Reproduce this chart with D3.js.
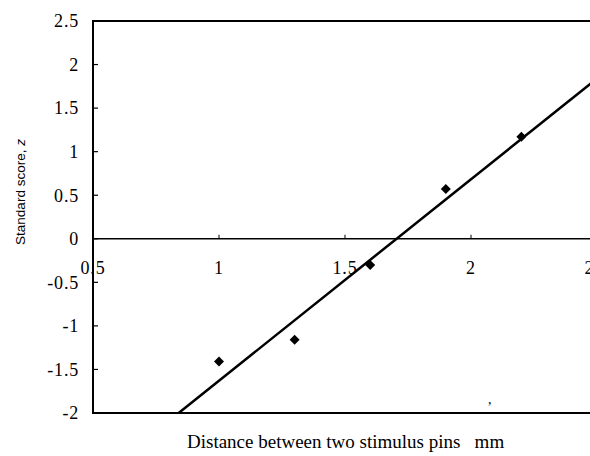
<!DOCTYPE html>
<html>
<head>
<meta charset="utf-8">
<script src="https://d3js.org/d3.v7.min.js"></script>
<style>
  body { margin: 0; background: #fff; }
  svg { display: block; }
  .tick-label { font-family: "Liberation Serif", "Times New Roman", serif; font-size: 18px; letter-spacing: 0.8px; }
</style>
</head>
<body>
<svg width="590" height="456"></svg>
<script>
// distance between pins (mm) and standard score z
var distance = [1.0, 1.3, 1.6, 1.9, 2.2];
var zScore = [-1.41, -1.16, -0.30, 0.57, 1.17];

// fitted straight line, end points as drawn
var fitX = [0.84, 2.5];
var fitY = [-2.0, 1.84];

var xTicks = [0.5, 1, 1.5, 2, 2.5];
var yTicks = [-2, -1.5, -1, -0.5, 0, 0.5, 1, 1.5, 2, 2.5];

var svg = d3.select("svg");

var x = d3.scaleLinear().domain([0.5, 2.5]).range([93, 597]);
var y = d3.scaleLinear().domain([-2, 2.5]).range([413, 21]);

// frame: left side, top and bottom (right side falls outside the picture)
svg.append("path")
  .attr("d", "M" + x(2.5) + "," + y(2.5) + "H" + x(0.5) + "V" + y(-2) + "H" + x(2.5))
  .attr("fill", "none")
  .attr("stroke", "#000")
  .attr("stroke-width", 2);

// y axis ticks point inward
svg.append("g")
  .selectAll("line")
  .data(yTicks)
  .enter().append("line")
  .attr("x1", x(0.5))
  .attr("x2", x(0.5) + 5)
  .attr("y1", function(d) { return y(d); })
  .attr("y2", function(d) { return y(d); })
  .attr("stroke", "#000")
  .attr("stroke-width", 1.2);

svg.append("g")
  .selectAll("text")
  .data(yTicks)
  .enter().append("text")
  .attr("class", "tick-label")
  .attr("x", 79)
  .attr("y", function(d) { return y(d); })
  .attr("dy", "0.35em")
  .attr("text-anchor", "end")
  .text(function(d) { return d; });

// x axis sits on z = 0
svg.append("line")
  .attr("x1", x(0.5))
  .attr("x2", x(2.5))
  .attr("y1", y(0))
  .attr("y2", y(0))
  .attr("stroke", "#000")
  .attr("stroke-width", 1.6);

svg.append("g")
  .selectAll("line")
  .data(xTicks)
  .enter().append("line")
  .attr("x1", function(d) { return x(d); })
  .attr("x2", function(d) { return x(d); })
  .attr("y1", y(0))
  .attr("y2", y(0) - 4)
  .attr("stroke", "#000")
  .attr("stroke-width", 1);

svg.append("g")
  .selectAll("text")
  .data(xTicks)
  .enter().append("text")
  .attr("class", "tick-label")
  .attr("x", function(d) { return x(d); })
  .attr("y", y(0) + 29)
  .attr("dy", "0.35em")
  .attr("text-anchor", "middle")
  .text(function(d) { return d; });

// fitted line
svg.append("line")
  .attr("x1", x(fitX[0]))
  .attr("y1", y(fitY[0]))
  .attr("x2", x(fitX[1]))
  .attr("y2", y(fitY[1]))
  .attr("stroke", "#000")
  .attr("stroke-width", 2.5);

// diamond markers
var diamond = d3.symbol().type(d3.symbolSquare).size(50);
svg.append("g")
  .selectAll("path")
  .data(distance)
  .enter().append("path")
  .attr("d", diamond)
  .attr("transform", function(d, i) {
    return "translate(" + x(d) + "," + y(zScore[i]) + ") rotate(45)";
  })
  .attr("fill", "#000");

// axis titles
svg.append("text")
  .attr("transform", "translate(25,192) rotate(-90)")
  .attr("text-anchor", "middle")
  .style("font-family", "'Liberation Sans', Arial, sans-serif")
  .style("font-size", "13.5px")
  .html("Standard score, <tspan font-style='italic'>z</tspan>");

svg.append("text")
  .attr("x", 187)
  .attr("y", 448)
  .style("font-family", "'Liberation Serif', 'Times New Roman', serif")
  .style("font-size", "19px")
  .style("white-space", "pre")
  .attr("xml:space", "preserve")
  .text("Distance between two stimulus pins   mm");

// stray scan mark near the bottom axis
svg.append("text")
  .attr("x", 488)
  .attr("y", 404)
  .style("font-family", "'Liberation Serif', serif")
  .style("font-size", "14px")
  .text(",");
</script>
</body>
</html>
